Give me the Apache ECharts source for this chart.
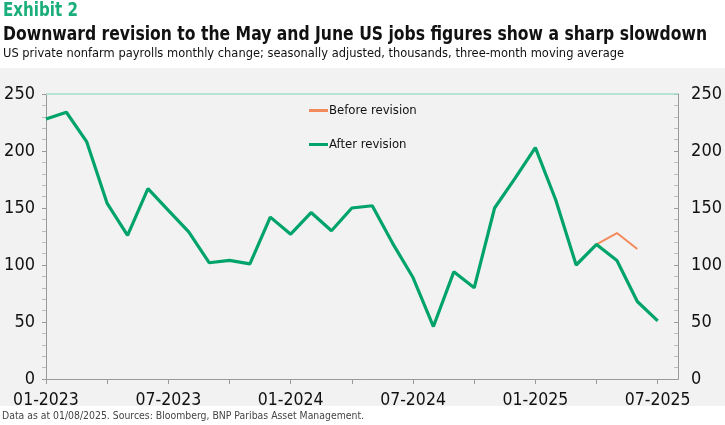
<!DOCTYPE html>
<html><head><meta charset="utf-8">
<script src="https://cdn.jsdelivr.net/npm/echarts@6/dist/echarts.min.js"></script>
<style>html,body{margin:0;padding:0;background:#fff}#c{width:725px;height:425px}</style>
</head><body><div id="c"></div>
<script>
const months = [];
for (let y = 2023; y <= 2025; y++) for (let m = 1; m <= 12; m++) months.push(String(m).padStart(2,'0') + '-' + y);
const categories = months.slice(0, 32);
const afterRevision = [228,234,208,154,126,167,148,129,102,104,101,142,127,146,130,150,152,119,89,46,94,80,150,176,203,157,100,118,104,68,51,null];
const beforeRevision = [null,null,null,null,null,null,null,null,null,null,null,null,null,null,null,null,null,null,null,null,null,null,null,null,null,null,null,118,128,114,null,null];
const yTicks = [0,50,100,150,200,250];

const FONT = '"DejaVu Sans Condensed","DejaVu Sans",sans-serif';
const ctx = document.createElement('canvas').getContext('2d');
function fitText(text, font, width, x, y, fill) {
  ctx.font = font;
  const w = ctx.measureText(text).width;
  return {type:'text', x:x, y:y, scaleX: width / w, originX:0, originY:0,
          style:{text:text, font:font, fill:fill, x:0, y:0, textVerticalAlign:'top', textAlign:'left'}};
}
const chart = echarts.init(document.getElementById('c'), null, {renderer:'canvas'});
const yAxisBase = {
  type:'value', min:yTicks[0], max:yTicks[yTicks.length-1], interval:50,
  splitLine:{show:false},
  axisLine:{show:true, lineStyle:{color:'#9a9a9a', width:1}},
  axisTick:{show:true, length:4, lineStyle:{color:'#9a9a9a'}},
  minorTick:{show:true, splitNumber:5, length:4, lineStyle:{color:'#bcbcbc'}},
  axisLabel:{color:'#111', fontSize:18, fontFamily:FONT}
};
chart.setOption({
  backgroundColor:'#ffffff',
  animation:false,
  graphic:[
    {type:'rect', shape:{x:0,y:68,width:725,height:338}, style:{fill:'#f2f2f2'}, z:-10},
    fitText('Exhibit 2', 'bold 19px ' + FONT, 75, 3, 2, '#1aae7a'),
    fitText('Downward revision to the May and June US jobs figures show a sharp slowdown', 'bold 20px ' + FONT, 704, 3, 25, '#111'),
    fitText('US private nonfarm payrolls monthly change; seasonally adjusted, thousands, three-month moving average', '12.5px ' + FONT, 621, 3, 47.5, '#111'),
    fitText('Data as at 01/08/2025. Sources: Bloomberg, BNP Paribas Asset Management.', '10.5px ' + FONT, 362, 2, 411, '#444')
  ],
  grid:{left:46, right:45, top:94, bottom:46},
  legend:{
    orient:'vertical', left:304, top:99, itemGap:21, itemWidth:19, itemHeight:3,
    icon:'rect',
    textStyle:{color:'#111', fontSize:13, fontFamily:FONT, padding:[0,0,0,-4]},
    data:['Before revision','After revision']
  },
  xAxis:{
    type:'category', data:categories, boundaryGap:false,
    axisLine:{show:true, lineStyle:{color:'#9a9a9a'}},
    axisTick:{show:true, interval:2, length:5, lineStyle:{color:'#9a9a9a'}},
    axisLabel:{interval:5, color:'#111', fontSize:17.5, fontFamily:FONT, margin:12},
    splitLine:{show:false}
  },
  yAxis:[
    Object.assign({}, yAxisBase, {position:'left', axisLabel:Object.assign({}, yAxisBase.axisLabel, {margin:11})}),
    Object.assign({}, yAxisBase, {position:'right', axisTick:Object.assign({}, yAxisBase.axisTick, {inside:true}), axisLabel:Object.assign({}, yAxisBase.axisLabel, {margin:13})})
  ],
  series:[
    {name:'Before revision', type:'line', data:beforeRevision, showSymbol:false, symbol:'none',
     lineStyle:{color:'#f28a5c', width:2}, itemStyle:{color:'#f28a5c'}, z:2},
    {name:'After revision', type:'line', data:afterRevision, showSymbol:false, symbol:'none',
     lineStyle:{color:'#00a46a', width:3.2}, itemStyle:{color:'#00a46a'}, z:3,
     markLine:{silent:true, symbol:'none', label:{show:false}, lineStyle:{color:'#a5dcc6', type:'solid', width:1.5},
       data:[{yAxis:250}]}}
  ]
});
</script></body></html>
